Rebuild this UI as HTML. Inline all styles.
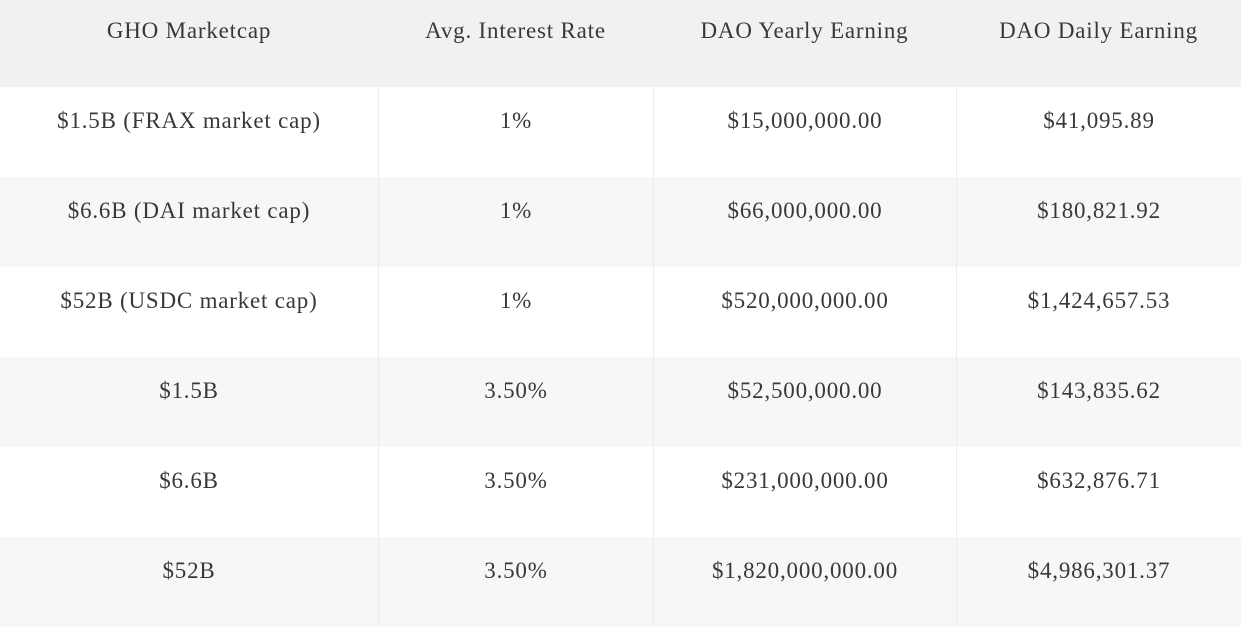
<!DOCTYPE html>
<html><head><meta charset="utf-8">
<style>
html,body{margin:0;padding:0;width:1241px;height:623px;overflow:hidden;background:#fff}
body{font-family:"Liberation Serif",serif;color:#383838;font-size:23px;letter-spacing:0.8px}
.row{position:absolute;left:0;width:1241px}
.cell{position:absolute;top:0;height:100%;text-align:center;box-sizing:border-box}
.cell span{position:absolute;left:0;right:0}
.hdr{top:0;height:87px;background:#f1f1f1}
.c0{left:0;width:378px}.c1{left:378px;width:275px;border-left:1px solid #ececec}
.c2{left:653px;width:303px;border-left:1px solid #ececec}.c3{left:956px;width:285px;border-left:1px solid #ececec}
.hdr .cell{border-left:none}
</style></head><body>
<div id="t"></div>
<script>
const headers=["GHO Marketcap","Avg. Interest Rate","DAO Yearly Earning","DAO Daily Earning"];
const col0=["$1.5B (FRAX market cap)","$6.6B (DAI market cap)","$52B (USDC market cap)","$1.5B","$6.6B","$52B"];
const col1=["1%","1%","1%","3.50%","3.50%","3.50%"];
const col2=["$15,000,000.00","$66,000,000.00","$520,000,000.00","$52,500,000.00","$231,000,000.00","$1,820,000,000.00"];
const col3=["$41,095.89","$180,821.92","$1,424,657.53","$143,835.62","$632,876.71","$4,986,301.37"];
const t=document.getElementById('t');
function mkRow(vals,top,h,bg,cls,name){
  const r=document.createElement('div');
  r.className='row '+cls;
  
  
  r.style.top=top+'px';r.style.height=h+'px';r.style.background=bg;
  vals.forEach((v,i)=>{
    const c=document.createElement('div');
    c.className='cell c'+i;
    
    
    const s=document.createElement('span');
    s.textContent=v;
    s.style.top=(cls==='hdr'?18:21)+'px';
    c.appendChild(s);r.appendChild(c);
  });
  t.appendChild(r);
}
mkRow(headers,0,87,'#f1f1f1','hdr','header-row');
for(let i=0;i<col0.length;i++){
  mkRow([col0[i],col1[i],col2[i],col3[i]],87+i*90,90,i%2?'#f7f7f7':'#fff','body','data-row-'+(i+1));
}
</script>
</body></html>
